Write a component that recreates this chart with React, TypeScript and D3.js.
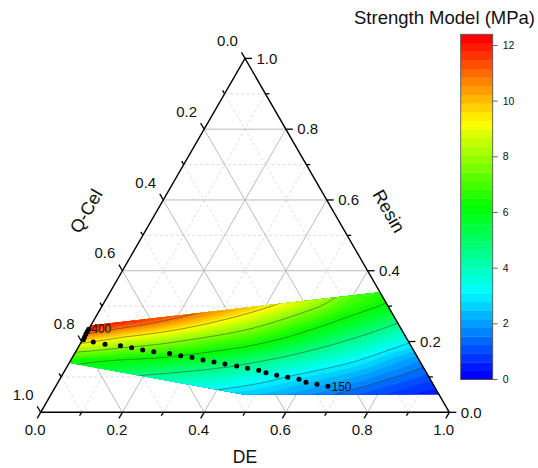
import React, { useMemo } from "react";
import * as d3 from "d3";

// ---------------- data ----------------
// Model grid: DE fraction (columns) x Resin fraction (rows); values are strength (MPa)
const DE_GRID = [0, 0.1, 0.2, 0.3, 0.4, 0.5, 0.6, 0.7, 0.8, 0.9, 1.0];
const RESIN_GRID = [0.05, 0.1, 0.15, 0.2, 0.25, 0.3, 0.35];
const STRENGTH_R005 = [5.0, 4.3, 3.6, 3.1, 2.8, 2.5, 2.05, 1.5, 1.0, 0.55, 0.2];
const STRENGTH_R010 = [5.8, 5.0, 4.5, 4.2, 3.9, 3.4, 2.8, 2.28, 1.65, 1.1, 0.8];
const STRENGTH_R015 = [6.5, 6.3, 6.1, 5.7, 5.2, 4.6, 3.9, 3.2, 2.3, 1.6, 1.2];
const STRENGTH_R020 = [9.65, 8.6, 8.0, 7.3, 6.7, 5.9, 5.0, 4.15, 3.2, 2.5, 2.0];
const STRENGTH_R025 = [12.4, 11.3, 10.2, 9.1, 8.1, 7.0, 6.0, 5.1, 4.1, 3.5, 3.0];
const STRENGTH_R030 = [14.5, 13.5, 12.2, 10.8, 9.5, 8.2, 6.9, 6.0, 5.3, 4.8, 4.5];
const STRENGTH_R035 = [16, 15, 13.5, 12, 10.8, 9.2, 7.3, 6.6, 6.3, 6.0, 5.8];
const STRENGTH_ROWS = [
  STRENGTH_R005,
  STRENGTH_R010,
  STRENGTH_R015,
  STRENGTH_R020,
  STRENGTH_R025,
  STRENGTH_R030,
  STRENGTH_R035,
];

// Experimental domain (ternary polygon)
const REGION_DE = [0, 0.661, 0.95, 0.471, 0];
const REGION_RESIN = [0.245, 0.339, 0.05, 0.05, 0.14];

// Dotted path (400 -> 150)
const PATH_DE = [0, 0, 0, 0.001, 0.002, 0.0294, 0.0612, 0.1012, 0.1314, 0.1616, 0.1913, 0.2325, 0.2627, 0.2929, 0.3233, 0.3531, 0.3828, 0.4143, 0.444, 0.4741, 0.4956, 0.5252, 0.5551, 0.5855, 0.6068, 0.6367, 0.6662];
const PATH_RESIN = [0.235, 0.228, 0.221, 0.213, 0.205, 0.1986, 0.1924, 0.1882, 0.1825, 0.176, 0.171, 0.1659, 0.1599, 0.1548, 0.1478, 0.1421, 0.1365, 0.1308, 0.1243, 0.119, 0.1116, 0.1048, 0.0989, 0.0932, 0.0851, 0.0791, 0.0737];
const PATH_START_LABEL = "400";
const PATH_END_LABEL = "150";

const AXIS_TICKS = [0, 0.2, 0.4, 0.6, 0.8, 1.0];
const MINOR_TICKS = [0.1, 0.3, 0.5, 0.7, 0.9];
const GRID_MAJOR = [0.2, 0.4, 0.6, 0.8];
const COLORBAR_TICKS = [0, 2, 4, 6, 8, 10, 12];
const COLOR_MIN = 0;
const COLOR_MAX = 12.4;
const N_LEVELS = 40;
const LINE_LEVELS = [1.55, 3.1, 4.65, 6.2, 7.75, 9.3, 10.85];

const TITLE = "Strength Model (MPa)";
const X_TITLE = "DE";
const LEFT_TITLE = "Q-Cel";
const RIGHT_TITLE = "Resin";

// ---------------- layout ----------------
const X0 = 40.7;
const Y0 = 412.3;
const TW = 408.6;
const TH = 353.9;
const FONT = "'Liberation Sans', Arial, sans-serif";

const xScale = d3.scaleLinear().domain([0, 1]).range([X0, X0 + TW]);
const yScale = d3.scaleLinear().domain([0, 1]).range([Y0, Y0 - TH]);
const px = (de: number, r: number) => xScale(de + r / 2);
const py = (r: number) => yScale(r);

const cbY = d3.scaleLinear().domain([COLOR_MIN, COLOR_MAX]).range([379.5, 34.3]);
const CB_X = 460.7;
const CB_W = 32;

const ramp = d3
  .scaleLinear<string>()
  .domain([0, 0.25, 0.5, 0.75, 1])
  .range(["#0000ff", "#00ffff", "#00ff00", "#ffff00", "#ff0000"])
  .interpolate(d3.interpolateRgb);

const fmt = d3.format(".1f");

function sampleField(de: number, r: number): number {
  const dStep = DE_GRID[1] - DE_GRID[0];
  const rStep = RESIN_GRID[1] - RESIN_GRID[0];
  let gi = (de - DE_GRID[0]) / dStep;
  let gj = (r - RESIN_GRID[0]) / rStep;
  gi = Math.max(0, Math.min(DE_GRID.length - 1, gi));
  gj = Math.max(0, Math.min(RESIN_GRID.length - 1, gj));
  const i0 = Math.min(Math.floor(gi), DE_GRID.length - 2);
  const j0 = Math.min(Math.floor(gj), RESIN_GRID.length - 2);
  const fx = gi - i0;
  const fy = gj - j0;
  const a = STRENGTH_ROWS[j0][i0];
  const b = STRENGTH_ROWS[j0][i0 + 1];
  const c = STRENGTH_ROWS[j0 + 1][i0];
  const d = STRENGTH_ROWS[j0 + 1][i0 + 1];
  return a * (1 - fx) * (1 - fy) + b * fx * (1 - fy) + c * (1 - fx) * fy + d * fx * fy;
}

const STEP = 0.004;
const DE_START = -0.04;
const R_START = 0.02;
const NX = 271;
const NY = 91;

function ringPath(rings: number[][][]): string {
  let s = "";
  for (const ring of rings) {
    ring.forEach((p, k) => {
      const de = DE_START + (p[0] - 0.5) * STEP;
      const r = R_START + (p[1] - 0.5) * STEP;
      s += (k === 0 ? "M" : "L") + px(de, r).toFixed(2) + "," + py(r).toFixed(2);
    });
    s += "Z";
  }
  return s;
}

export default function App() {
  const { fills, lines } = useMemo(() => {
    const values = new Array(NX * NY);
    for (let j = 0; j < NY; j++) {
      for (let i = 0; i < NX; i++) {
        values[j * NX + i] = sampleField(DE_START + i * STEP, R_START + j * STEP);
      }
    }
    const step = (COLOR_MAX - COLOR_MIN) / N_LEVELS;
    const levels = d3.range(N_LEVELS).map((i) => COLOR_MIN + i * step);
    const fillContours = d3.contours().size([NX, NY]).thresholds(levels)(values);
    const fills = fillContours.map((c, i) => ({
      d: c.coordinates.map((poly) => ringPath(poly as any)).join(""),
      color: ramp(i / (N_LEVELS - 1)),
    }));
    const lineContours = d3.contours().size([NX, NY]).thresholds(LINE_LEVELS)(values);
    const lines = lineContours.map((c) => c.coordinates.map((poly) => ringPath(poly as any)).join(""));
    return { fills, lines };
  }, []);

  const regionPath =
    REGION_DE.map((de, i) => (i === 0 ? "M" : "L") + px(de, REGION_RESIN[i]) + "," + py(REGION_RESIN[i])).join("") + "Z";

  const gridLines: { x1: number; y1: number; x2: number; y2: number; major: boolean }[] = [];
  const addGrid = (v: number, major: boolean) => {
    gridLines.push({ x1: px(0, v), y1: py(v), x2: px(1 - v, v), y2: py(v), major });
    gridLines.push({ x1: px(v, 0), y1: py(0), x2: px(v, 1 - v), y2: py(1 - v), major });
    gridLines.push({ x1: px(1 - v, 0), y1: py(0), x2: px(0, 1 - v), y2: py(1 - v), major });
  };
  MINOR_TICKS.forEach((v) => addGrid(v, false));
  GRID_MAJOR.forEach((v) => addGrid(v, true));

  const c60 = 0.5;
  const s60 = Math.sqrt(3) / 2;
  const ticks: { x1: number; y1: number; x2: number; y2: number }[] = [];
  const addTicks = (v: number, len: number) => {
    ticks.push({ x1: px(v, 0), y1: py(0), x2: px(v, 0) - c60 * len, y2: py(0) + s60 * len });
    ticks.push({ x1: px(1 - v, v), y1: py(v), x2: px(1 - v, v) + len, y2: py(v) });
    ticks.push({ x1: px(0, 1 - v), y1: py(1 - v), x2: px(0, 1 - v) - c60 * len, y2: py(1 - v) - s60 * len });
  };
  AXIS_TICKS.forEach((v) => addTicks(v, 7));
  MINOR_TICKS.forEach((v) => addTicks(v, 4));

  const cbStep = (COLOR_MAX - COLOR_MIN) / N_LEVELS;
  const lastIdx = PATH_DE.length - 1;

  return (
    <div style={{ position: "fixed", left: 0, top: 0 }}>
      <svg width={538} height={468} style={{ display: "block", background: "#fff" }} fontFamily={FONT}>
        <defs>
          <clipPath id="regionClip">
            <path d={regionPath} />
          </clipPath>
        </defs>

        {gridLines.map((g, i) => (
          <line
            key={"g" + i}
            x1={g.x1}
            y1={g.y1}
            x2={g.x2}
            y2={g.y2}
            stroke={g.major ? "#b3b3b3" : "#d4d4d4"}
            strokeWidth={g.major ? 0.9 : 0.8}
            strokeDasharray={g.major ? undefined : "3,2.5"}
          />
        ))}

        <g clipPath="url(#regionClip)">
          {fills.map((f, i) => (
            <path key={"f" + i} d={f.d} fill={f.color} stroke={f.color} strokeWidth={0.3} />
          ))}
          {lines.map((d, i) => (
            <path key={"l" + i} d={d} fill="none" stroke="#3a3a3a" strokeOpacity={0.75} strokeWidth={0.7} />
          ))}
        </g>

        <path
          d={`M${px(0, 0)},${py(0)}L${px(1, 0)},${py(0)}L${px(0, 1)},${py(1)}Z`}
          fill="none"
          stroke="#000"
          strokeWidth={1.4}
          strokeLinejoin="miter"
        />
        {ticks.map((t, i) => (
          <line key={"t" + i} x1={t.x1} y1={t.y1} x2={t.x2} y2={t.y2} stroke="#000" strokeWidth={1.3} />
        ))}

        {AXIS_TICKS.map((v) => (
          <text key={"b" + v} x={px(v, 0) - 5.5} y={430} dy="0.35em" textAnchor="middle" fontSize={15} fill="#111">
            {fmt(v)}
          </text>
        ))}
        {AXIS_TICKS.map((v) => (
          <text key={"r" + v} x={px(1 - v, v) + 11.5} y={py(v)} dy="0.35em" textAnchor="start" fontSize={15} fill="#111">
            {fmt(v)}
          </text>
        ))}
        {AXIS_TICKS.map((v) => (
          <text
            key={"q" + v}
            x={px(0, 1 - v) - 17.5}
            y={py(1 - v) - 17.7}
            dy="0.35em"
            textAnchor="middle"
            fontSize={15}
            fill="#111"
          >
            {fmt(v)}
          </text>
        ))}

        <text x={245} y={463} textAnchor="middle" fontSize={17.5} fill="#111">
          {X_TITLE}
        </text>
        <text transform="translate(86,211) rotate(-60)" dy="0.35em" textAnchor="middle" fontSize={18} fill="#111">
          {LEFT_TITLE}
        </text>
        <text transform="translate(389,211) rotate(60)" dy="0.35em" textAnchor="middle" fontSize={18} fill="#111">
          {RIGHT_TITLE}
        </text>

        {PATH_DE.map((de, i) => (
          <circle key={"p" + i} cx={px(de, PATH_RESIN[i])} cy={py(PATH_RESIN[i])} r={2.5} fill="#000" />
        ))}
        <text x={px(PATH_DE[0], PATH_RESIN[0]) + 2.5} y={py(PATH_RESIN[0]) + 4} fontSize={12} fill="#111">
          {PATH_START_LABEL}
        </text>
        <text x={px(PATH_DE[lastIdx], PATH_RESIN[lastIdx]) + 3.5} y={py(PATH_RESIN[lastIdx]) + 4.5} fontSize={12} fill="#111">
          {PATH_END_LABEL}
        </text>

        <text x={535} y={24} textAnchor="end" fontSize={18.5} fill="#111">
          {TITLE}
        </text>
        {d3.range(N_LEVELS).map((i) => (
          <rect
            key={"cb" + i}
            x={CB_X}
            y={cbY(COLOR_MIN + (i + 1) * cbStep)}
            width={CB_W}
            height={cbY(COLOR_MIN + i * cbStep) - cbY(COLOR_MIN + (i + 1) * cbStep) + 0.3}
            fill={ramp(i / (N_LEVELS - 1))}
          />
        ))}
        <rect
          x={CB_X}
          y={cbY(COLOR_MAX)}
          width={CB_W}
          height={cbY(COLOR_MIN) - cbY(COLOR_MAX)}
          fill="none"
          stroke="#555"
          strokeWidth={0.9}
        />
        {COLORBAR_TICKS.map((v) => (
          <g key={"cbt" + v}>
            <line x1={CB_X + CB_W} x2={CB_X + CB_W + 5} y1={cbY(v)} y2={cbY(v)} stroke="#555" strokeWidth={0.9} />
            <text x={CB_X + CB_W + 10} y={cbY(v)} dy="0.35em" fontSize={10.5} fill="#111">
              {v}
            </text>
          </g>
        ))}
      </svg>
    </div>
  );
}
